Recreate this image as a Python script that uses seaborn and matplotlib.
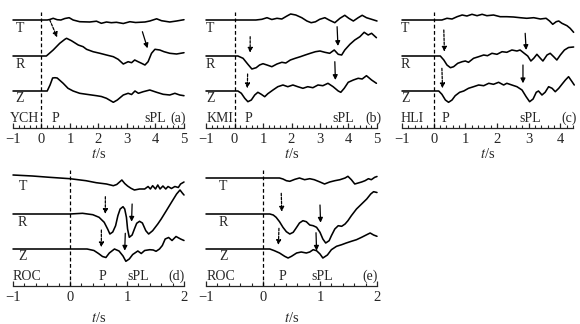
import numpy as np
import matplotlib
matplotlib.use("Agg")
import matplotlib.pyplot as plt
from matplotlib.ticker import MultipleLocator
import seaborn as sns

# --- traces: time (s) and amplitude (arbitrary units) ---
# (a) YCH
t_a_T = [-1, 0.2, 0.29, 0.41, 0.55, 0.68, 0.82, 0.97, 1.11, 1.34, 1.69, 1.93, 2.1, 2.28, 2.45, 2.63, 2.87, 3.1, 3.3, 3.63, 3.8, 4.04, 4.21, 4.5, 4.74, 5.0]
a_T = [0, 0, 0.5, 1.7, 0.3, 0, 1.5, 2.3, 0, -1.7, -2.0, -1.2, -3.3, -2.0, -2.7, -2.3, -3.5, -1.7, -2.5, -2.0, -1.0, 1.2, -0.7, -2.0, -1.0, 0.3]
t_a_R = [-1, 0.17, 0.41, 0.64, 0.82, 0.88, 1.05, 1.29, 1.46, 1.58, 1.81, 2.05, 2.28, 2.52, 2.69, 2.87, 3.04, 3.16, 3.27, 3.39, 3.51, 3.63, 3.74, 3.86, 3.98, 4.15, 4.3, 4.5, 4.74, 5.0]
a_R = [0, 0, 6, 12.7, 16.7, 17.7, 15.3, 11, 9.3, 6.7, 4.3, 2.7, 1, -0.7, -3.3, -8, -5.7, -6.7, -4, -5.7, -7.3, -9, -5.7, 2.7, 6.7, 6, 4.3, 2.7, 2, 3.3]
t_a_Z = [-1, 0.2, 0.3, 0.39, 0.47, 0.55, 0.63, 0.76, 0.93, 1.11, 1.34, 1.58, 1.93, 2.1, 2.28, 2.52, 2.66, 2.87, 3.04, 3.16, 3.28, 3.4, 3.57, 3.8, 4.04, 4.27, 4.5, 4.68, 4.85, 5.0]
a_Z = [0, 0, 6, 13, 13.3, 13, 11, 7.7, 2.7, 0, -2.3, -3.3, -4.7, -5.5, -7.3, -11.3, -9, -4, -2.3, -3.5, 0, -2.3, -0.7, 1, -1.3, -3.3, -4, -2.3, -4, -4.7]

# (b) KMI
t_b_T = [-1, 0.75, 0.96, 1.14, 1.31, 1.49, 1.66, 1.84, 1.97, 2.15, 2.36, 2.54, 2.69, 2.84, 2.99, 3.17, 3.34, 3.52, 3.7, 3.87, 4.01, 4.17, 4.34, 4.48, 4.63, 4.81, 5.0]
b_T = [0, 0, 0.7, 2.3, 0.5, 1.7, 1, 4, 6, 5, 2.3, -1, -2.7, -1.8, 0.7, 2.3, -0.3, -2.7, 1.7, 4.7, 1.7, -1, 2.3, 4.7, 2.3, 0.7, -1]
t_b_R = [-1, 0.12, 0.3, 0.47, 0.61, 0.76, 0.88, 1.0, 1.14, 1.31, 1.49, 1.66, 1.8, 1.96, 2.13, 2.31, 2.48, 2.66, 2.84, 3.0, 3.17, 3.34, 3.5, 3.64, 3.76, 3.87, 4.05, 4.22, 4.4, 4.55, 4.69, 4.81, 4.98]
b_R = [0, 0, -2.3, -8.3, -13, -11.7, -9, -7.7, -9, -10.7, -8, -6.3, -7, -4, -2.3, -0.7, 1, 2.7, 4.3, 5, 3.7, 2.7, 6, 1.7, 1, 6, 11.7, 16, 19.3, 23.7, 21, 22.7, 18.3]
t_b_Z = [-1, 0.12, 0.24, 0.36, 0.47, 0.59, 0.71, 0.82, 0.94, 1.06, 1.17, 1.35, 1.52, 1.7, 1.87, 2.05, 2.22, 2.4, 2.57, 2.75, 2.93, 3.1, 3.28, 3.46, 3.64, 3.73, 3.85, 3.99, 4.17, 4.34, 4.48, 4.63, 4.81, 4.98]
b_Z = [0, 0, -2.3, -7.3, -10.7, -9, -4, -1.3, -3.3, -5.7, -2.7, 1, 4.3, 6, 4.3, 6, 4.3, 2.7, 4.3, 3.3, 6, 5.3, 7.7, 4.3, 0, -1.3, 2.7, 8.7, 11, 12.7, 12, 15.3, 11, 7.7]

# (c) HLI
t_c_T = [-1, 0.26, 0.42, 0.58, 0.74, 0.9, 1.05, 1.21, 1.37, 1.53, 1.68, 1.89, 2.1, 2.31, 2.52, 2.73, 2.94, 3.16, 3.37, 3.55, 3.66, 3.76, 3.87, 3.95, 4.05, 4.21, 4.31, 4.42]
c_T = [0, 0, 1.7, 1.0, 3.3, 5, 4, 5.7, 4.3, 5.7, 4.3, 5, 3.3, 3.3, 3, 2.3, 1.7, 2.3, 1, 1.7, -1, -4.3, -1.7, -1, -3.3, -5.7, -8.3, -12.3]
t_c_R = [-1, 0.21, 0.32, 0.42, 0.53, 0.63, 0.76, 0.9, 1.0, 1.1, 1.26, 1.42, 1.58, 1.7, 1.84, 2.0, 2.16, 2.31, 2.47, 2.63, 2.73, 2.86, 2.97, 3.07, 3.16, 3.26, 3.37, 3.45, 3.58, 3.68, 3.79, 3.89, 4.0, 4.13, 4.26, 4.42]
c_R = [0, 0, -4, -9, -11.7, -10.7, -7.3, -5.7, -5, -6.3, -2.3, -0.7, 1, 0.3, 2.7, 1.7, 4.3, 3.7, 6, 5, 6, 2.7, 0, -5, -2.3, 1.7, -2.3, -5, 1, 2.7, -0.7, -4, 1, 6, 8.5, 9]
t_c_Z = [-1, 0.16, 0.26, 0.37, 0.47, 0.58, 0.68, 0.82, 0.95, 1.1, 1.26, 1.42, 1.58, 1.74, 1.89, 2.05, 2.21, 2.31, 2.47, 2.63, 2.79, 2.92, 3.03, 3.14, 3.24, 3.31, 3.42, 3.52, 3.63, 3.74, 3.84, 3.95, 4.05, 4.16, 4.26, 4.37, 4.44]
c_Z = [0, 0, -3.3, -9, -11.3, -9, -4.7, -1.3, 0, 2.7, 4.3, 6, 5.3, 7.7, 6.7, 8.7, 6, 7.7, 6, 4.3, 1, -5.7, -10.7, -8, -1.3, 0, -4, -1.3, 4.3, 2.7, -0.7, 2.7, 6.7, 11, 14.3, 9.3, 6]

# (d) ROC
t_d_T = [-1, -0.66, -0.36, 0, 0.28, 0.46, 0.64, 0.76, 0.82, 0.87, 0.91, 0.96, 1.01, 1.07, 1.13, 1.22, 1.31, 1.37, 1.41, 1.45, 1.5, 1.54, 1.58, 1.63, 1.68, 1.72, 1.78, 1.84, 1.9, 1.94, 2.0]
d_T = [3, 2, 0.7, -0.7, -2.7, -4.7, -6, -7.7, -6.5, -4, -2, -5.5, -8, -10.3, -12, -11, -11, -8.5, -11, -7.7, -11, -7, -11, -8, -11, -8.5, -10.5, -8.5, -9.5, -6, -4]
t_d_R = [-1, 0, 0.22, 0.4, 0.51, 0.6, 0.66, 0.7, 0.75, 0.8, 0.84, 0.88, 0.93, 0.96, 0.99, 1.01, 1.04, 1.09, 1.13, 1.17, 1.22, 1.27, 1.33, 1.38, 1.45, 1.54, 1.6, 1.69, 1.78, 1.87, 1.93, 1.97, 2.0]
d_R = [0, 0, 0.7, -0.7, -3.3, -8.3, -15, -20, -18, -11.7, -1.7, 5, 7.3, 5, -3.3, -15, -23.3, -21, -15, -9.3, -7.3, -9, -16.7, -20, -16.7, -10, -5, 3.3, 11.7, 20, 24, 21, 19]
t_d_Z = [-1, 0.3, 0.42, 0.5, 0.57, 0.63, 0.69, 0.78, 0.86, 0.93, 0.98, 1.04, 1.1, 1.19, 1.25, 1.31, 1.4, 1.46, 1.51, 1.57, 1.62, 1.67, 1.73, 1.79, 1.86, 1.94, 2.0]
d_Z = [0, 0, -1.5, -4.5, -7.5, -8.5, -4, 0, -2, -7, -12.3, -10, -5.5, -2, -4.5, -1.5, -0.7, -1, -2.3, 0, 3.5, 10, 11.5, 8.5, 12.5, 10, 8.5]

# (e) ROC
t_e_T = [-1, 0.29, 0.35, 0.41, 0.47, 0.56, 0.64, 0.73, 0.82, 0.9, 1.0, 1.08, 1.17, 1.26, 1.35, 1.44, 1.49, 1.55, 1.61, 1.67, 1.73, 1.79, 1.85, 1.9, 1.96, 2.0]
e_T = [0, 0, -1, -2.7, -3.3, -1.3, 0, -1.7, -0.7, -1.7, -4, -6, -4, -2.7, -1.7, 0, 1.7, -1.7, -6, -5, -4, -2.7, -0.7, -1.7, 0.7, 1.5]
t_e_R = [-1, 0.12, 0.18, 0.23, 0.29, 0.35, 0.41, 0.47, 0.53, 0.59, 0.64, 0.7, 0.76, 0.82, 0.88, 0.94, 1.0, 1.05, 1.1, 1.16, 1.2, 1.26, 1.32, 1.38, 1.44, 1.49, 1.55, 1.64, 1.73, 1.82, 1.89, 1.94, 2.0]
e_R = [0, 0, -1, -3.3, -7.7, -13.3, -17.7, -20, -18.3, -13.3, -9, -6.7, -7.7, -11, -11.7, -13.3, -18.3, -25, -29, -26.7, -21.7, -15, -11.7, -12.3, -10, -6.7, -1.7, 5, 10, 15, 20, 22.3, 21.5]
t_e_Z = [-1, 0.12, 0.2, 0.29, 0.38, 0.44, 0.5, 0.59, 0.67, 0.76, 0.82, 0.88, 0.94, 1.0, 1.05, 1.13, 1.2, 1.29, 1.38, 1.46, 1.55, 1.64, 1.73, 1.82, 1.88, 1.94, 2.0]
e_Z = [0, 0, -1.7, -4, -7.3, -9, -7.3, -4, -3, -4, -3, -0.7, -1.7, -5, -9, -6, -0.7, 2.7, 4.3, 6, 7.7, 9.3, 11.7, 14.3, 16, 14, 12.7]

stations = ["YCH", "KMI", "HLI", "ROC", "ROC"]
letters = ["(a)", "(b)", "(c)", "(d)", "(e)"]
components = ["T", "R", "Z"]

# --- layout / annotation config ---
base = {"T": 108, "R": 72, "Z": 37}
panels = [
    dict(traces=[(t_a_T, a_T), (t_a_R, a_R), (t_a_Z, a_Z)], xlim=(-1, 5), pos=(13, 128),
         lab_x=-0.76, st_x=-0.59, p_x=0.5, spl_x=3.98, let_x=4.79,
         arrows=[(0.29, 108, 0.55, 90.7, True), (3.54, 96.3, 3.72, 79.7, False)]),
    dict(traces=[(t_b_T, b_T), (t_b_R, b_R), (t_b_Z, b_Z)], xlim=(-1, 5), pos=(206, 128),
         lab_x=-0.85, st_x=-0.5, p_x=0.49, spl_x=3.81, let_x=4.86,
         arrows=[(0.55, 91.3, 0.55, 75.3, True), (0.46, 54, 0.45, 39.7, True),
                 (3.6, 101.3, 3.63, 82, False), (3.52, 66.3, 3.54, 48, False)]),
    dict(traces=[(t_c_T, c_T), (t_c_R, c_R), (t_c_Z, c_Z)], xlim=(-1, 4.4), pos=(402, 128),
         lab_x=-0.89, st_x=-0.68, p_x=0.37, spl_x=3.05, let_x=4.29,
         arrows=[(0.32, 98, 0.34, 76.3, True), (0.26, 59.7, 0.28, 39.7, True),
                 (2.89, 94.7, 2.92, 78, False), (2.82, 63, 2.82, 44.7, False)]),
    dict(traces=[(t_d_T, d_T), (t_d_R, d_R), (t_d_Z, d_Z)], xlim=(-1, 2), pos=(13, 286),
         lab_x=-0.83, st_x=-0.75, p_x=0.57, spl_x=1.19, let_x=1.87,
         arrows=[(0.62, 89.3, 0.62, 72, True), (0.55, 56, 0.55, 38.7, True),
                 (1.09, 82, 1.08, 64.3, False), (0.97, 52.7, 0.96, 35.3, False)]),
    dict(traces=[(t_e_T, e_T), (t_e_R, e_R), (t_e_Z, e_Z)], xlim=(-1, 2), pos=(206, 286),
         lab_x=-0.7, st_x=-0.73, p_x=0.34, spl_x=1.03, let_x=1.88,
         arrows=[(0.32, 92.7, 0.33, 74.3, True), (0.28, 57.7, 0.27, 41, True),
                 (1.0, 81, 1.01, 63.3, False), (0.93, 53.3, 0.94, 35.3, False)]),
]

sns.set_style("ticks")
plt.rcParams["font.family"] = ["Liberation Serif", "DejaVu Serif"]
plt.rcParams["mathtext.fontset"] = "stix"

W, H = 580, 324
fig = plt.figure(figsize=(W / 100, H / 100), dpi=100)
fs = 10
lab_y = {"T": 100, "R": 64, "Z": 29}

for i, p in enumerate(panels):
    left, bottom = p["pos"]
    ax = fig.add_axes([left / W, (H - bottom) / H, 171 / W, 123 / H])
    ax.set_xlim(*p["xlim"])
    ax.set_ylim(0, 123)

    for comp, (tt, amp) in zip(components, p["traces"]):
        sns.lineplot(x=np.array(tt), y=base[comp] + np.array(amp), ax=ax, color="black",
                     linewidth=1.15, estimator=None, sort=False, clip_on=False)
        ax.text(p["lab_x"], lab_y[comp], comp, fontsize=fs, ha="center", va="center")

    ax.vlines(0, 0, 116, colors="black", linestyles=(0, (3, 2)), linewidth=0.9)

    for x0, y0, x1, y1, dashed in p["arrows"]:
        ax.annotate("", xy=(x1, y1), xytext=(x0, y0),
                    arrowprops=dict(arrowstyle="-|>", color="black", lw=0.9,
                                    linestyle=(0, (2, 1.2)) if dashed else "-",
                                    mutation_scale=7, shrinkA=0, shrinkB=0))

    ax.text(p["st_x"], 10, stations[i], fontsize=fs, ha="center", va="center")
    ax.text(p["p_x"], 10, "P", fontsize=fs, ha="center", va="center")
    ax.text(p["spl_x"], 10, "sPL", fontsize=fs, ha="center", va="center")
    ax.text(p["let_x"], 10, letters[i], fontsize=fs, ha="center", va="center")

    for s in ["left", "right", "top"]:
        ax.spines[s].set_visible(False)
    ax.spines["bottom"].set_linewidth(0.9)
    ax.set_yticks([])
    ax.xaxis.set_major_locator(MultipleLocator(1))
    ax.xaxis.set_minor_locator(MultipleLocator(0.2))
    ax.tick_params(axis="x", which="major", direction="in", length=3.5, width=0.9,
                   labelsize=fs + 0.5, pad=3.5)
    ax.tick_params(axis="x", which="minor", direction="in", length=2, width=0.8)
    ax.set_xlabel("$t$/s", fontsize=fs + 0.5, labelpad=1 if bottom < 200 else 5)
    ax.set_ylabel("")

fig.savefig("out.png", dpi=100, facecolor="white")
